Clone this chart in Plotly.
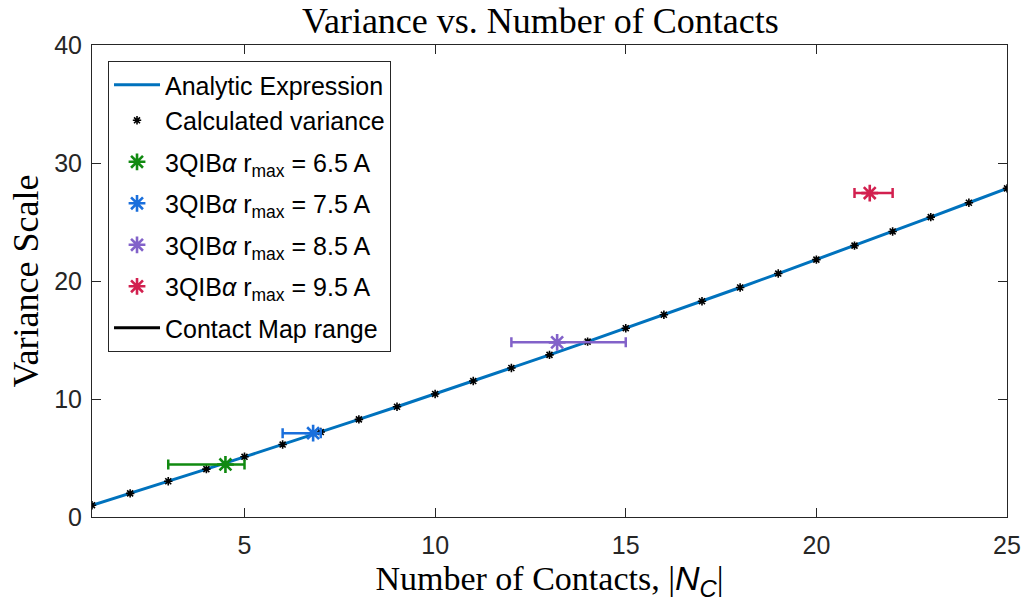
import plotly.graph_objects as go

# Number of contacts and the computed variance scale at each count
n_contacts = list(range(1, 26))
calc_variance = [1.0, 2.0, 3.03, 4.06, 5.1, 6.14, 7.2, 8.27, 9.34, 10.43,
                 11.52, 12.63, 13.74, 14.86, 16.0, 17.14, 18.29, 19.45, 20.63,
                 21.81, 23.0, 24.2, 25.41, 26.63, 27.85]
analytic_variance = calc_variance

# 3QIB alpha results for each cutoff radius
labels = ["6.5", "7.5", "8.5", "9.5"]
protein_nc = [4.5, 6.8, 13.2, 21.4]
protein_var = [4.45, 7.1, 14.8, 27.45]
range_lo = [3, 6, 12, 21]
range_hi = [5, 7, 15, 22]
colors = ["#118a11", "#1a6fdc", "#8262c9", "#d2204f"]

AXIS = "#262626"
SANS = "Liberation Sans"
SERIF = "Liberation Serif"

fig = go.Figure()

fig.add_trace(go.Scatter(
    x=n_contacts, y=analytic_variance, mode="lines",
    line=dict(color="#0072BD", width=3),
    name="Analytic Expression", legendgroup="model"))

fig.add_trace(go.Scatter(
    x=n_contacts, y=calc_variance, mode="markers",
    marker=dict(symbol="asterisk-open", size=7, color="black",
                line=dict(color="black", width=1.6)),
    name="Calculated variance", legendgroup="model"))

for lab, xc, yc, lo, hi, col in zip(labels, protein_nc, protein_var,
                                     range_lo, range_hi, colors):
    fig.add_trace(go.Scatter(
        x=[xc], y=[yc], mode="markers",
        marker=dict(symbol="asterisk-open", size=14, color=col,
                    line=dict(color=col, width=2.6)),
        error_x=dict(type="data", symmetric=False,
                     array=[hi - xc], arrayminus=[xc - lo],
                     color=col, thickness=2.5, width=5),
        name="3QIB<i>α</i> r<sub>max</sub> = " + lab + " A",
        legendgroup="r" + lab))

# legend entry for the contact-map range bars
fig.add_trace(go.Scatter(
    x=[None], y=[None], mode="lines",
    line=dict(color="black", width=3),
    name="Contact Map range", legendgroup="range"))

fig.update_layout(
    width=1027, height=602,
    margin=dict(l=92, r=20, t=45, b=85),
    paper_bgcolor="white", plot_bgcolor="white",
    title=dict(text="Variance vs. Number of Contacts",
               font=dict(family=SERIF, size=36, color="black"),
               x=0.49, xref="paper", xanchor="center",
               y=1 - 20 / 602, yanchor="middle"),
    legend=dict(x=0.0175, y=0.966, xanchor="left", yanchor="top",
                bgcolor="white", bordercolor=AXIS, borderwidth=1,
                font=dict(family=SANS, size=25, color="black"),
                itemsizing="trace", itemwidth=46,
                traceorder="grouped", tracegroupgap=6),
    showlegend=True,
)

fig.update_xaxes(
    range=[1, 25], tickvals=[5, 10, 15, 20, 25], automargin=False,
    showline=True, linecolor=AXIS, linewidth=1, mirror="ticks",
    ticks="inside", ticklen=9, tickcolor=AXIS, tickwidth=1,
    showgrid=False, zeroline=False,
    tickfont=dict(family=SANS, size=25, color=AXIS),
    ticklabelstandoff=6,
    title=dict(text="Number of Contacts, |<span style=\"font-family:Liberation Sans\"><i>N<sub>C</sub></i></span>|",
               font=dict(family=SERIF, size=34, color="black"), standoff=2))

fig.update_yaxes(
    range=[0, 40], tickvals=[0, 10, 20, 30, 40], automargin=False,
    showline=True, linecolor=AXIS, linewidth=1, mirror="ticks",
    ticks="inside", ticklen=9, tickcolor=AXIS, tickwidth=1,
    showgrid=False, zeroline=False,
    tickfont=dict(family=SANS, size=25, color=AXIS),
    ticklabelstandoff=4,
    title=dict(text="Variance Scale",
               font=dict(family=SERIF, size=36, color="black"), standoff=4))

fig.update_layout(margin=dict(r=20))

fig.write_html("out.html")
